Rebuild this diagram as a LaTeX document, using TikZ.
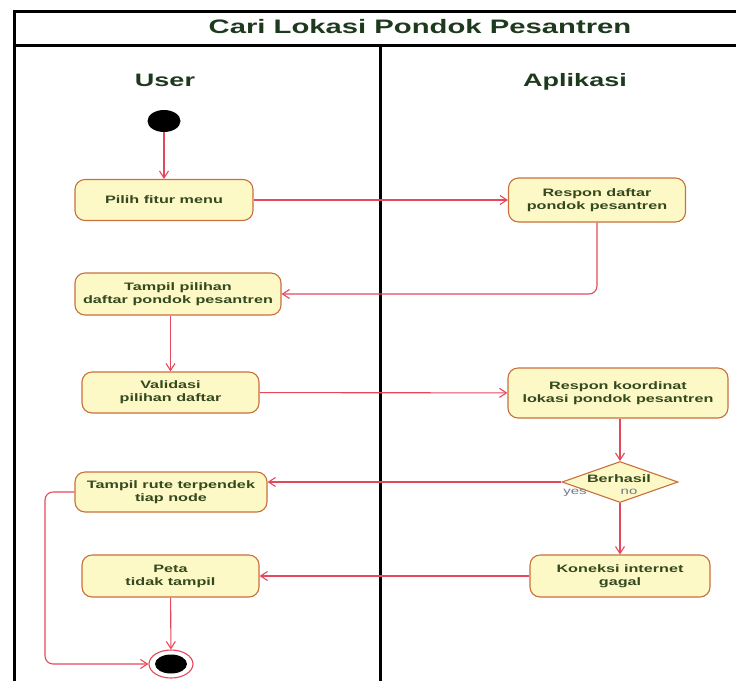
\documentclass[tikz,border=0pt]{standalone}
\usepackage{fontspec}
\usetikzlibrary{arrows.meta,shapes.geometric,calc}
\newfontfamily\wfont[FakeStretch=1.5]{Liberation Sans}
\definecolor{framegreen}{HTML}{1E3A1E}
\definecolor{acttext}{HTML}{34491F}
\definecolor{actfill}{HTML}{FDF9C6}
\definecolor{actline}{HTML}{C8703C}
\definecolor{flow}{HTML}{E4485A}
\definecolor{guard}{HTML}{6F7A88}
\tikzset{
  act/.style={draw=actline, fill=actfill, line width=1.1pt, rounded corners=10pt,
    align=center, inner sep=0pt, text=acttext,
    font=\wfont\bfseries\fontsize{10.8}{13}\selectfont},
  decision/.style={diamond, draw=actline, fill=actfill, line width=1.1pt,
    inner sep=0pt, text=acttext, font=\wfont\bfseries\fontsize{10.8}{13}\selectfont},
  flowline/.style={draw=flow, line width=1.1pt, rounded corners=8pt,
    -{Straight Barb[length=7pt,width=9pt]}},
  lane/.style={anchor=base, text=framegreen, font=\wfont\bfseries\fontsize{18}{20}\selectfont},
  guardlbl/.style={text=guard, font=\wfont\fontsize{10}{12}\selectfont, inner sep=0pt},
  framerule/.style={line width=3pt, black}
}
\begin{document}
\begin{tikzpicture}[x=1pt,y=-1pt]
\useasboundingbox (0,0) rectangle (736,681);

% swimlane frame
\draw[framerule] (14,681) -- (14,11) -- (736,11);
\draw[framerule] (14,45) -- (736,45);
\draw[framerule] (380,45) -- (380,681);

\node[text=framegreen, font=\wfont\bfseries\fontsize{19.5}{22}\selectfont] (title) at (420,27) {Cari Lokasi Pondok Pesantren};
\node[lane] (laneuser) at (165,86) {User};
\node[lane] (laneapp) at (575,86) {Aplikasi};

% initial node
\node[ellipse, fill=black, minimum width=33, minimum height=22, inner sep=0pt] (start) at (164,121) {};

% activities
\node[act, minimum width=178, minimum height=41] (pilih) at (164,200) {Pilih fitur menu};
\node[act, minimum width=177, minimum height=44] (respon1) at (597,200) {Respon daftar\\pondok pesantren};
\node[act, minimum width=206, minimum height=42] (tampil1) at (178,294) {Tampil pilihan\\daftar pondok pesantren};
\node[act, minimum width=177, minimum height=41] (validasi) at (170.5,392.5) {Validasi\\pilihan daftar};
\node[act, minimum width=220, minimum height=50] (respon2) at (618,393) {Respon koordinat\\lokasi pondok pesantren};
\node[decision, minimum width=116, minimum height=41] (dia) at (620,482) {};
\node[text=acttext, font=\wfont\bfseries\fontsize{10.8}{13}\selectfont] (dialbl) at (619,479) {Berhasil};
\node[act, minimum width=192, minimum height=40] (tampil2) at (171,492) {Tampil rute terpendek\\tiap node};
\node[act, minimum width=177, minimum height=42] (peta) at (170.5,576) {Peta\\tidak tampil};
\node[act, minimum width=180, minimum height=42] (koneksi) at (620,576) {Koneksi internet\\gagal};

% final node
\node[ellipse, draw=flow, fill=white, line width=1.1pt, minimum width=44, minimum height=28, inner sep=0pt] (fin) at (171,664) {};
\node[ellipse, fill=black, minimum width=32, minimum height=19, inner sep=0pt] (fincore) at (171,664) {};

% guards
\node[guardlbl] (yes) at (575,493) {yes};
\node[guardlbl] (no) at (629,492) {no};

% control flows
\coordinate (loop) at (45,664);
\draw[flowline] (start) -- (pilih);
\draw[flowline] (pilih) -- (respon1);
\draw[flowline] (respon1.south) |- (tampil1.east);
\draw[flowline] (validasi.north |- tampil1.south) -- (validasi.north);
\draw[flowline] (validasi) -- (respon2);
\draw[flowline] (dia.north |- respon2.south) -- (dia.north);
\draw[flowline] (dia.west) -- (dia.west -| tampil2.east);
\draw[flowline] (dia.south) -- (koneksi.north);
\draw[flowline] (koneksi) -- (peta);
\draw[flowline] (peta) -- (fin);
\draw[flowline] (tampil2.west) -| (loop) -- (fin.west);
\end{tikzpicture}
\end{document}
